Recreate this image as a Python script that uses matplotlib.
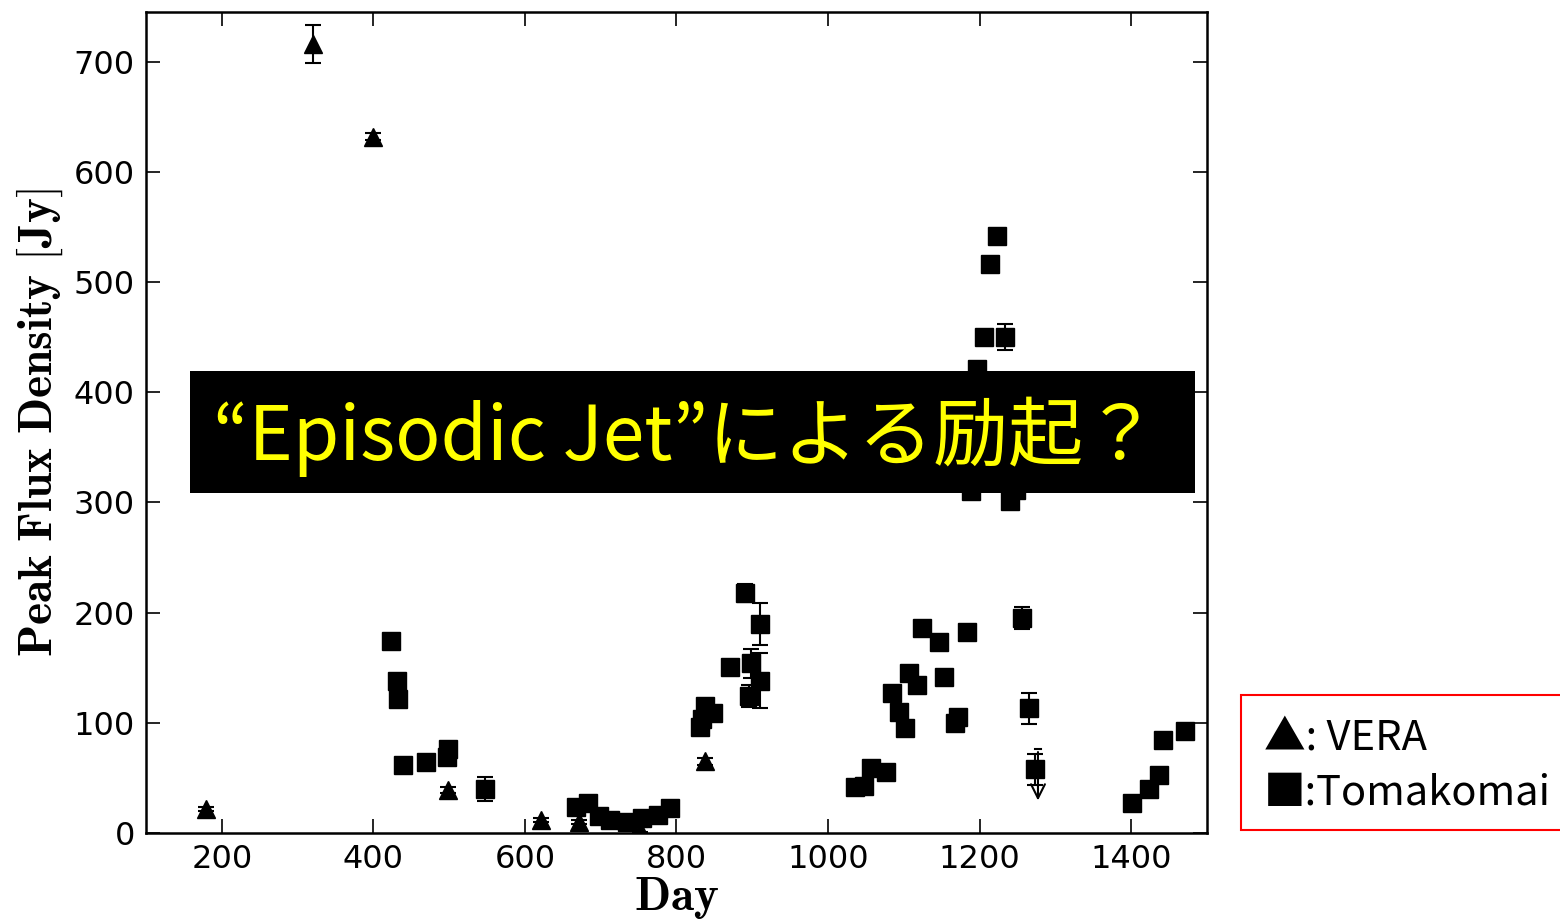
import matplotlib

matplotlib.use("Agg")
import matplotlib.pyplot as plt
from matplotlib.patches import Rectangle

plt.rcParams["mathtext.fontset"] = "cm"

# VERA (triangles)
VERA_DAY = [179, 321, 399, 499, 621, 671, 752, 838]
VERA_FLUX = [22, 716, 632, 39, 12, 10, 3, 65]
VERA_ERR = [2, 17, 3, 3, 2, 2, 2, 3]

# Tomakomai (squares)
TOMA_DAY = [423, 431, 433, 439, 469, 497, 498, 547, 667, 683, 698, 712, 735, 755, 775, 792,
            831, 833, 838, 848, 871, 890, 896, 898, 910, 910,
            1036, 1048, 1057, 1076, 1084, 1093, 1101, 1107, 1117, 1124, 1147, 1153, 1167, 1171, 1183,
            1188, 1197, 1206, 1214, 1223, 1234, 1240, 1248, 1256, 1265, 1273,
            1401, 1424, 1437, 1442, 1471]
TOMA_FLUX = [174, 138, 122, 62, 64, 69, 76, 40, 24, 27, 15, 12, 10, 14, 16, 23,
             96, 103, 115, 109, 151, 218, 124, 154, 138, 190,
             42, 43, 59, 55, 127, 110, 95, 145, 134, 186, 173, 142, 100, 105, 182,
             310, 421, 450, 516, 542, 450, 301, 311, 195, 113, 58,
             27, 40, 53, 84, 93]
TOMA_ERR = [0, 0, 0, 0, 0, 0, 0, 11, 0, 0, 0, 0, 0, 0, 0, 0,
            0, 0, 0, 0, 0, 8, 10, 13, 25, 19,
            0, 0, 0, 0, 0, 0, 0, 0, 0, 0, 0, 0, 0, 0, 0,
            0, 0, 0, 0, 0, 12, 0, 0, 10, 14, 14,
            0, 0, 0, 0, 0]

# upper limit
UL_DAY = [1277]
UL_TOP = [76]
UL_BOTTOM = [27]

fig = plt.figure(figsize=(15.6, 9.23), dpi=100)
ax = fig.add_axes([0.0936, 0.0975, 0.6801, 0.8895])

ax.errorbar(VERA_DAY, VERA_FLUX, yerr=VERA_ERR, fmt="^", color="black", ms=13,
            capsize=6, elinewidth=1.5, capthick=1.5)
ax.errorbar(TOMA_DAY, TOMA_FLUX, yerr=TOMA_ERR, fmt="s", color="black", ms=13,
            capsize=6, elinewidth=1.5, capthick=1.5)

for d, top, bot in zip(UL_DAY, UL_TOP, UL_BOTTOM):
    ax.plot([d - 4, d + 4], [top, top], color="black", lw=1.5)
    ax.annotate("", xy=(d, bot), xytext=(d, top),
                arrowprops=dict(arrowstyle="->", color="black", lw=1.5, mutation_scale=25))

ax.set_xlim(100, 1500)
ax.set_ylim(0, 745)
ax.set_xticks([200, 400, 600, 800, 1000, 1200, 1400])
ax.set_yticks([0, 100, 200, 300, 400, 500, 600, 700])
ax.tick_params(direction="in", length=10, width=1.2, labelsize=23, top=True, right=True, pad=8)
for s in ax.spines.values():
    s.set_linewidth(1.8)

ax.set_xlabel(r"$\mathbf{Day}$", fontsize=34, labelpad=0)
ax.set_ylabel(r"$\mathbf{Peak\ Flux\ Density\ [Jy]}$", fontsize=34, labelpad=6)

# overlay banner
fig.patches.append(Rectangle((0.1218, 0.4659), 0.6442, 0.1321, transform=fig.transFigure,
                             facecolor="black", edgecolor="none", zorder=5))
fig.text(0.1365, 0.5265, "“Episodic Jet”による励起？", color="#FFFF00", fontsize=54,
         family=["Noto Sans CJK JP", "DejaVu Sans"], va="center", ha="left", zorder=6)

# legend box
fig.patches.append(Rectangle((0.7955, 0.1008), 0.22, 0.1463, transform=fig.transFigure,
                             facecolor="white", edgecolor="#FF0000", lw=1.5, zorder=5))
fig.text(0.8103, 0.2005, "▲: VERA", fontsize=30, family=["Noto Sans CJK JP", "DejaVu Sans"],
         va="center", ha="left", zorder=6)
fig.text(0.8103, 0.1398, "■:Tomakomai", fontsize=30, family=["Noto Sans CJK JP", "DejaVu Sans"],
         va="center", ha="left", zorder=6)

fig.savefig("out.png", dpi=100)
